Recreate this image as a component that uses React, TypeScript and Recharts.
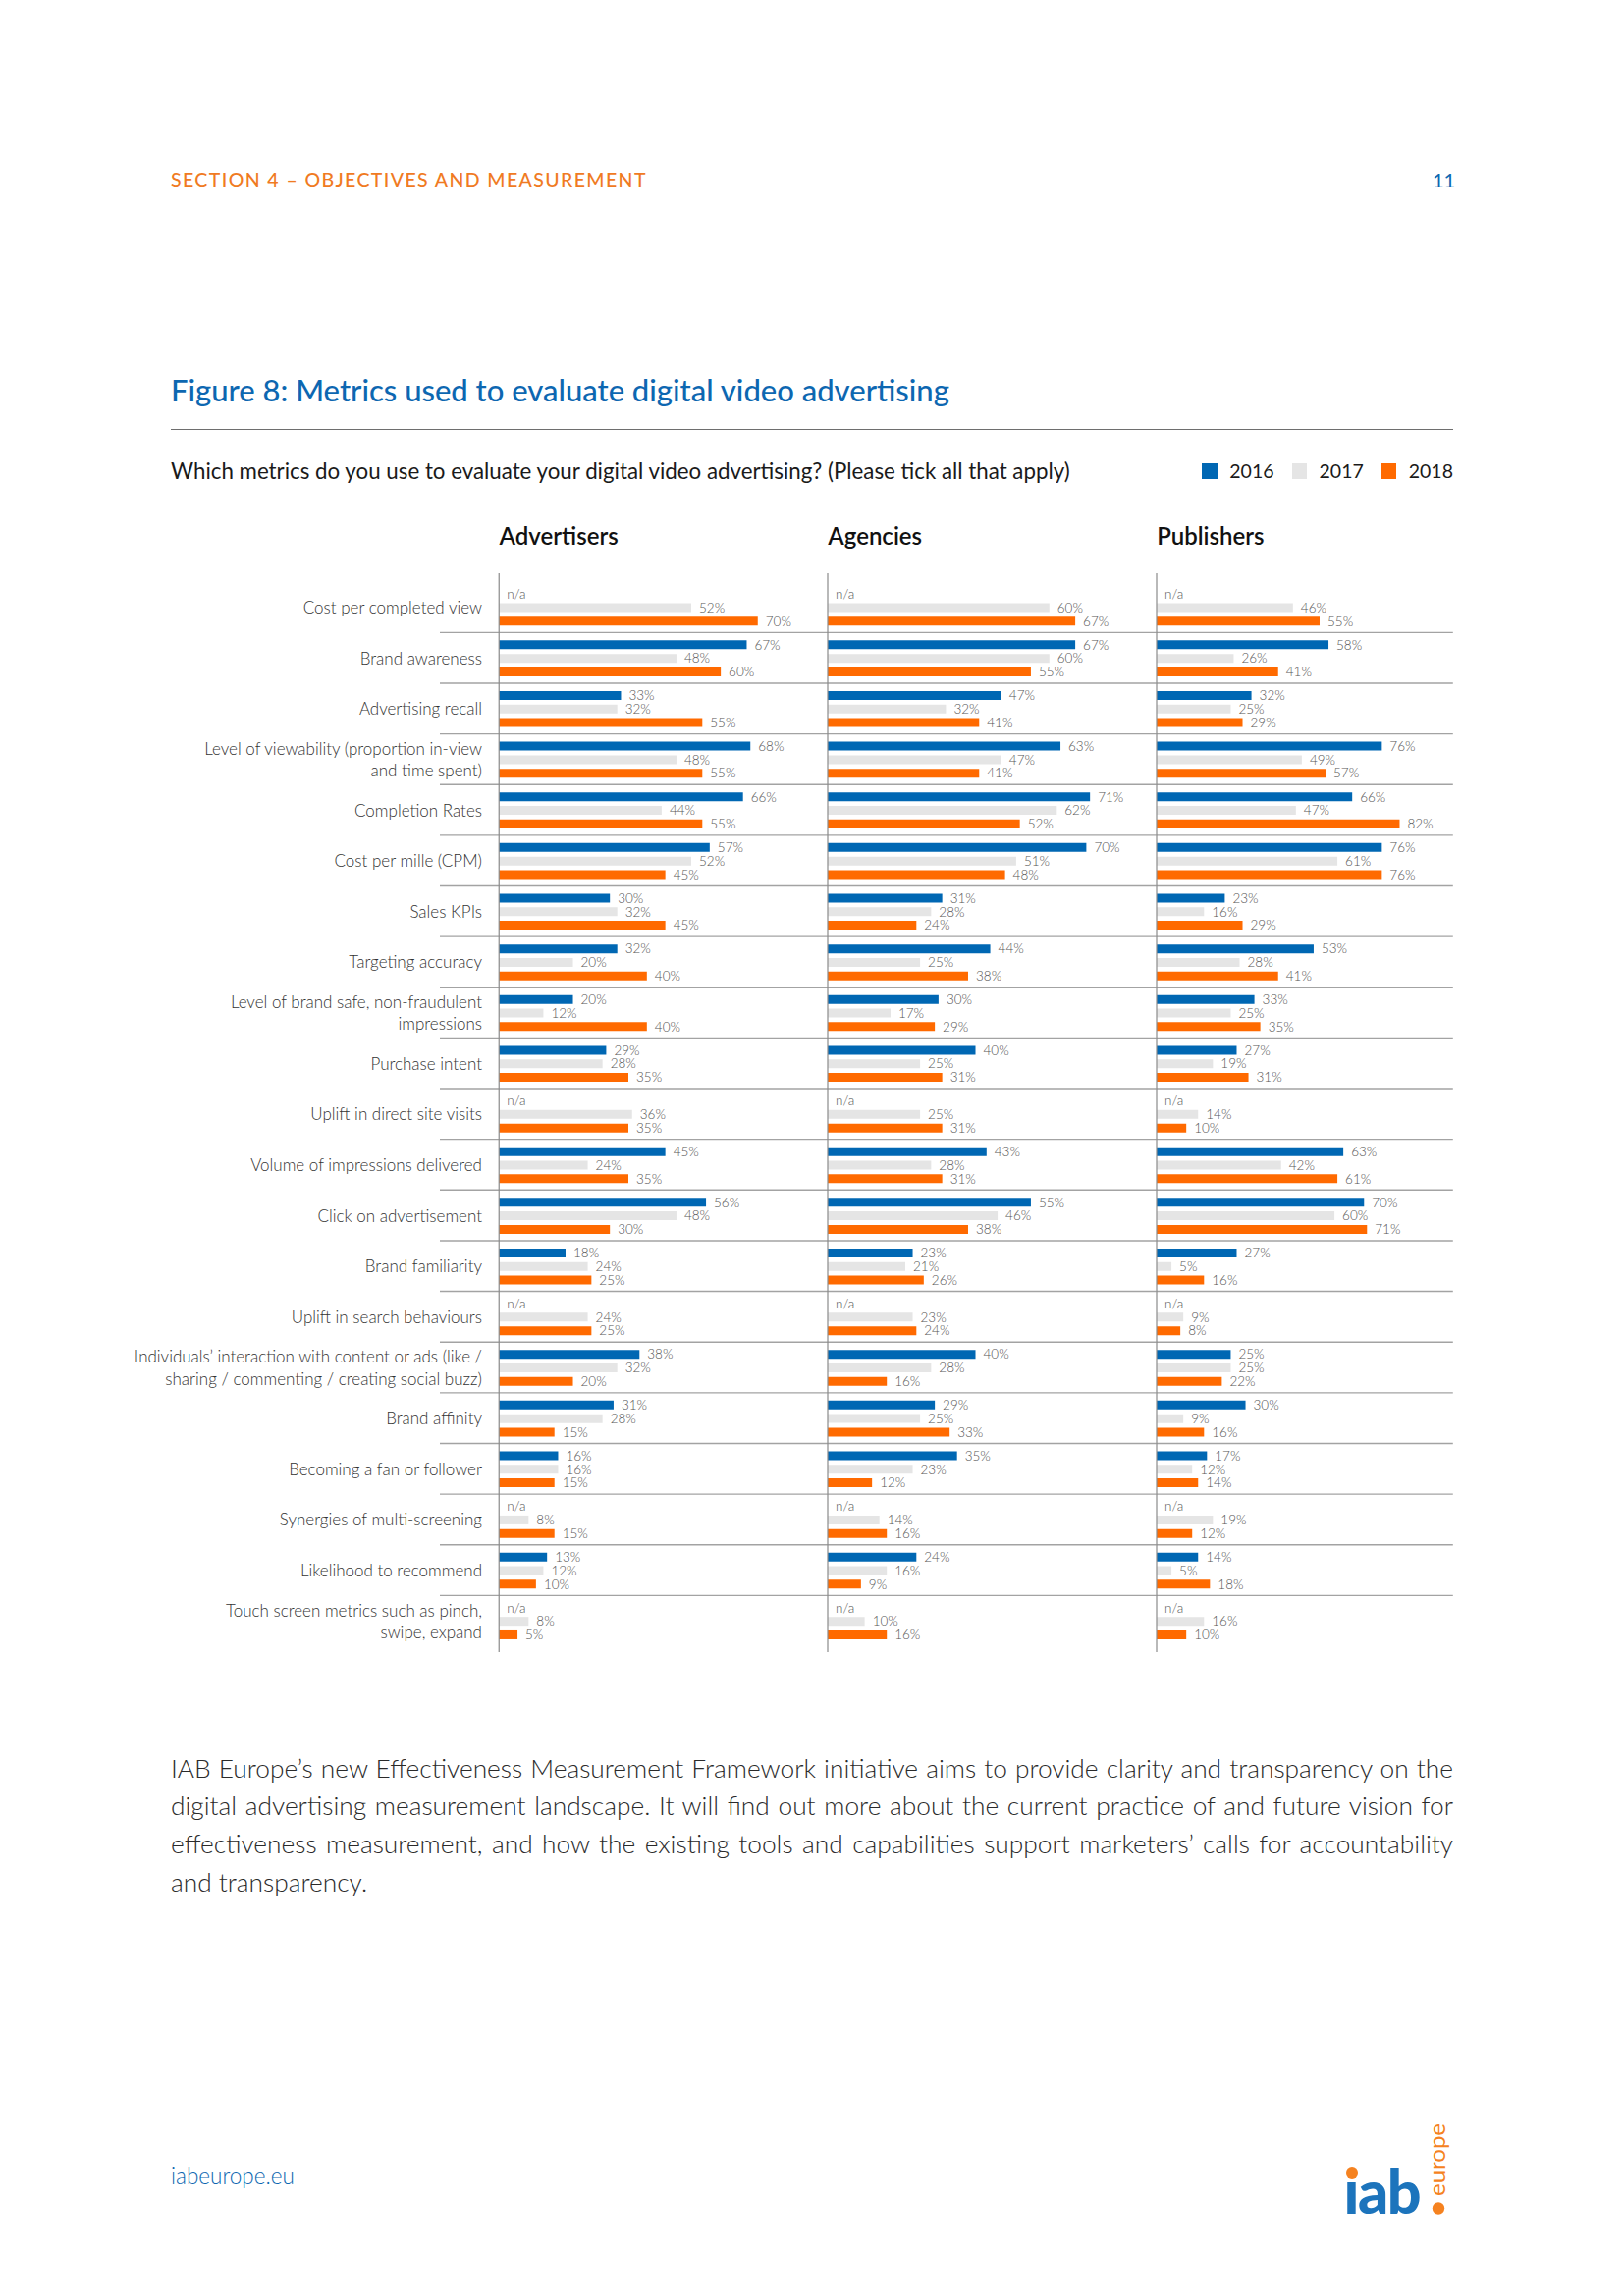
import React from 'react';
import { BarChart, Bar, XAxis, YAxis, ReferenceLine, LabelList } from 'recharts';

// ---------- DATA ----------
const categories: string[] = [
  'Cost per completed view',
  'Brand awareness',
  'Advertising recall',
  'Level of viewability (proportion in-view\nand time spent)',
  'Completion Rates',
  'Cost per mille (CPM)',
  'Sales KPIs',
  'Targeting accuracy',
  'Level of brand safe, non-fraudulent\nimpressions',
  'Purchase intent',
  'Uplift in direct site visits',
  'Volume of impressions delivered',
  'Click on advertisement',
  'Brand familiarity',
  'Uplift in search behaviours',
  'Individuals\u2019 interaction with content or ads (like /\nsharing / commenting / creating social buzz)',
  'Brand affinity',
  'Becoming a fan or follower',
  'Synergies of multi-screening',
  'Likelihood to recommend',
  'Touch screen metrics such as pinch,\nswipe, expand',
];

const advertisers2016: (number | null)[] = [null, 67, 33, 68, 66, 57, 30, 32, 20, 29, null, 45, 56, 18, null, 38, 31, 16, null, 13, null];
const advertisers2017: number[] = [52, 48, 32, 48, 44, 52, 32, 20, 12, 28, 36, 24, 48, 24, 24, 32, 28, 16, 8, 12, 8];
const advertisers2018: number[] = [70, 60, 55, 55, 55, 45, 45, 40, 40, 35, 35, 35, 30, 25, 25, 20, 15, 15, 15, 10, 5];

const agencies2016: (number | null)[] = [null, 67, 47, 63, 71, 70, 31, 44, 30, 40, null, 43, 55, 23, null, 40, 29, 35, null, 24, null];
const agencies2017: number[] = [60, 60, 32, 47, 62, 51, 28, 25, 17, 25, 25, 28, 46, 21, 23, 28, 25, 23, 14, 16, 10];
const agencies2018: number[] = [67, 55, 41, 41, 52, 48, 24, 38, 29, 31, 31, 31, 38, 26, 24, 16, 33, 12, 16, 9, 16];

const publishers2016: (number | null)[] = [null, 58, 32, 76, 66, 76, 23, 53, 33, 27, null, 63, 70, 27, null, 25, 30, 17, null, 14, null];
const publishers2017: number[] = [46, 26, 25, 49, 47, 61, 16, 28, 25, 19, 14, 42, 60, 5, 9, 25, 9, 12, 19, 5, 16];
const publishers2018: number[] = [55, 41, 29, 57, 82, 76, 29, 41, 35, 31, 10, 61, 71, 16, 8, 22, 16, 14, 12, 18, 10];

const years = ['2016', '2017', '2018'];

const paragraphLines = [
  'IAB Europe\u2019s new Effectiveness Measurement Framework initiative aims to provide clarity and transparency on the',
  'digital advertising measurement landscape. It will find out more about the current practice of and future vision for',
  'effectiveness measurement, and how the existing tools and capabilities support marketers\u2019 calls for accountability',
  'and transparency.',
];

// ---------- STYLE ----------
const FONT = "Lato, 'Open Sans', 'DejaVu Sans', sans-serif";
const BLUE = '#0067B3';
const GREY = '#E5E5E5';
const ORANGE = '#FF6A00';
const TITLE_BLUE = '#0D67B1';
const HEAD_ORANGE = '#F07A22';
const LOGO_BLUE = '#1C74BC';
const LOGO_ORANGE = '#F58220';
const yearColors = [BLUE, GREY, ORANGE];

const CHART_TOP = 584;
const CHART_HEIGHT = 1099;
const PAD_TOP = 8.7;
const PAD_BOTTOM = 6;

type Row = {
  name: string;
  v2016: number;
  v2017: number;
  v2018: number;
  l2016: string;
  l2017: string;
  l2018: string;
};

function buildRows(a: (number | null)[], b: number[], c: number[]): Row[] {
  return categories.map((name, i) => ({
    name,
    v2016: a[i] == null ? 0 : (a[i] as number),
    v2017: b[i],
    v2018: c[i],
    l2016: a[i] == null ? 'n/a' : `${a[i]}%`,
    l2017: `${b[i]}%`,
    l2018: `${c[i]}%`,
  }));
}

const advRows = buildRows(advertisers2016, advertisers2017, advertisers2018);
const agcRows = buildRows(agencies2016, agencies2017, agencies2018);
const pubRows = buildRows(publishers2016, publishers2017, publishers2018);

const CategoryTick = (props: any) => {
  const { x, y, payload } = props;
  const lines = String(payload.value).split('\n');
  const lh = 22.3;
  return (
    <g>
      {lines.map((ln, i) => (
        <text
          key={i}
          x={x + 43}
          y={y + (i - (lines.length - 1) / 2) * lh}
          textAnchor="end"
          dominantBaseline="central"
          fontSize={17}
          fontWeight={300}
          fill="#333"
          fontFamily={FONT}
        >
          {ln}
        </text>
      ))}
    </g>
  );
};

// tiny, invisible length so that an "n/a" bar still carries its label
const naMinSize = (v: number) => (v === 0 ? 0.01 : 0);

type PanelProps = {
  rows: Row[];
  left: number;
  width: number;
  domain: [number, number];
  yAxisWidth: number;
  showLabels: boolean;
  marginLeft: number;
};

function Panel({ rows, left, width, domain, yAxisWidth, showLabels, marginLeft }: PanelProps) {
  return (
    <div style={{ position: 'absolute', left, top: CHART_TOP }}>
      <BarChart
        width={width}
        height={CHART_HEIGHT}
        data={rows}
        layout="vertical"
        margin={{ top: 0, right: 0, bottom: 0, left: marginLeft }}
        barSize={9}
        barGap={4.8}
      >
        <XAxis type="number" domain={domain} hide allowDataOverflow />
        <YAxis
          type="category"
          dataKey="name"
          width={showLabels ? yAxisWidth : 0}
          hide={!showLabels}
          axisLine={false}
          tickLine={false}
          tickSize={0}
          tickMargin={0}
          interval={0}
          tick={<CategoryTick />}
          padding={{ top: PAD_TOP, bottom: PAD_BOTTOM }}
        />
        {categories.slice(1).map((c) => (
          <ReferenceLine key={c} y={c} position="start" stroke="#A3A3A3" strokeWidth={1.4} />
        ))}
        <ReferenceLine x={0} stroke="#8A8A8A" strokeWidth={1.2} />
        {years.map((yr, k) => (
          <Bar
            key={yr}
            dataKey={`v${yr}`}
            fill={yearColors[k]}
            isAnimationActive={false}
            minPointSize={k === 0 ? (naMinSize as any) : 0}
          >
            <LabelList
              dataKey={`l${yr}`}
              position="right"
              offset={8}
              fill="#555"
              fontSize={13.5}
              fontWeight={300}
              fontFamily={FONT}
            />
          </Bar>
        ))}
      </BarChart>
    </div>
  );
}

const abs = (extra: React.CSSProperties): React.CSSProperties => ({ position: 'absolute', whiteSpace: 'nowrap', ...extra });

export default function App() {
  return (
    <div
      style={{
        position: 'absolute',
        left: 0,
        top: 0,
        width: 1654,
        height: 2339,
        background: '#fff',
        fontFamily: FONT,
        overflow: 'hidden',
      }}
    >
      {/* Header */}
      <div style={abs({ left: 174, top: 183 - 12, lineHeight: '24px', fontSize: 19.5, fontWeight: 500, color: HEAD_ORANGE, letterSpacing: 1.4 })}>
        SECTION 4 – OBJECTIVES AND MEASUREMENT
      </div>
      <div style={abs({ left: 1459, top: 183 - 12, lineHeight: '24px', fontSize: 20, fontWeight: 400, color: TITLE_BLUE })}>11</div>

      {/* Title */}
      <div style={abs({ left: 174, top: 397 - 19, lineHeight: '38px', fontSize: 31, fontWeight: 500, color: TITLE_BLUE })}>
        Figure 8: Metrics used to evaluate digital video advertising
      </div>
      <div style={abs({ left: 174, top: 437, width: 1306, height: 0, borderTop: '1.6px solid #6E6E6E' })} />

      {/* Question + legend */}
      <div style={abs({ left: 174, top: 480 - 14, lineHeight: '28px', fontSize: 22.3, fontWeight: 400, color: '#1A1A1A' })}>
        Which metrics do you use to evaluate your digital video advertising? (Please tick all that apply)
      </div>
      <div style={abs({ right: 1654 - 1480, top: 480 - 13, height: 26, display: 'flex', alignItems: 'center' })}>
        {years.map((yr, k) => (
          <div key={yr} style={{ display: 'flex', alignItems: 'center', marginLeft: k === 0 ? 0 : 18 }}>
            <div style={{ width: 15.3, height: 15.3, background: yearColors[k], marginRight: 12.7 }} />
            <span style={{ fontSize: 19.5, lineHeight: '26px', color: '#1A1A1A' }}>{yr}</span>
          </div>
        ))}
      </div>

      {/* Panel titles */}
      {[
        ['Advertisers', 508.5],
        ['Agencies', 843.3],
        ['Publishers', 1178.2],
      ].map(([t, x]) => (
        <div key={t as string} style={abs({ left: x as number, top: 546 - 15, lineHeight: '30px', fontSize: 24, fontWeight: 600, color: '#111' })}>
          {t}
        </div>
      ))}

      {/* Panels */}
      <Panel rows={advRows} left={0} width={843.3} domain={[-16, 89]} yAxisWidth={448} showLabels marginLeft={0} />
      <Panel rows={agcRows} left={841.3} width={2 + 334.9} domain={[0, 89]} yAxisWidth={0} showLabels={false} marginLeft={2} />
      <Panel rows={pubRows} left={1176.2} width={2 + 301.8} domain={[0, 100]} yAxisWidth={0} showLabels={false} marginLeft={2} />

      {/* Paragraph */}
      <div style={abs({ left: 174, top: 1801 - 19.4, width: 1306, whiteSpace: 'normal', fontSize: 26.3, fontWeight: 300, color: '#2A2A2A', lineHeight: '38.8px' })}>
        {paragraphLines.map((ln, i) => (
          <div
            key={i}
            style={{
              textAlign: 'justify',
              textAlignLast: i === paragraphLines.length - 1 ? 'left' : 'justify',
              whiteSpace: 'nowrap',
            }}
          >
            {ln}
          </div>
        ))}
      </div>

      {/* Footer */}
      <div style={abs({ left: 174, top: 2217 - 14, lineHeight: '28px', fontSize: 22.5, fontWeight: 300, color: TITLE_BLUE })}>iabeurope.eu</div>

      {/* Logo */}
      <svg style={{ position: 'absolute', left: 1360, top: 2140 }} width={130} height={150}>
        <text x={8.5} y={115} fontFamily={FONT} fontWeight={900} fontSize={61} fill={LOGO_BLUE} letterSpacing={-1.5}>
          {'\u0131ab'}
        </text>
        <circle cx={17} cy={74} r={6} fill={LOGO_ORANGE} />
        <circle cx={105} cy={109.5} r={6.2} fill={LOGO_ORANGE} />
        <text transform="translate(112 97) rotate(-90)" fontFamily={FONT} fontWeight={400} fontSize={24} fill={LOGO_ORANGE}>
          europe
        </text>
      </svg>
    </div>
  );
}
